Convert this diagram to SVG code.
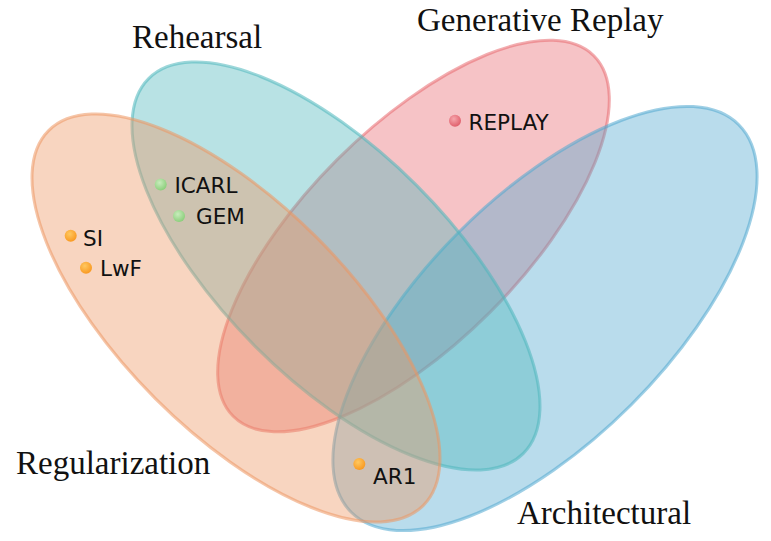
<svg xmlns="http://www.w3.org/2000/svg" width="771" height="541" viewBox="0 0 771 541">
  <defs>
    <radialGradient id="gGreen" cx="40%" cy="35%" r="65%">
      <stop offset="0" stop-color="#c8ecbc"/>
      <stop offset="1" stop-color="#8ccf7c"/>
    </radialGradient>
    <radialGradient id="gOrange" cx="40%" cy="35%" r="65%">
      <stop offset="0" stop-color="#ffc860"/>
      <stop offset="1" stop-color="#f99a22"/>
    </radialGradient>
    <radialGradient id="gRed" cx="40%" cy="35%" r="65%">
      <stop offset="0" stop-color="#f6a6ac"/>
      <stop offset="1" stop-color="#e0606c"/>
    </radialGradient>
    <style>
      .set { fill-opacity: 0.4; stroke-opacity: 0.55; stroke-width: 3; }
      .title { font-family: "Liberation Serif", "Times New Roman", serif; font-size: 33px; fill: #111; }
      .lbl { font-family: "DejaVu Sans", Verdana, sans-serif; font-size: 21.5px; fill: #111; }
    </style>
  </defs>
  <rect width="771" height="541" fill="#ffffff"/>

  <g id="set-generative-replay">
    <ellipse class="set" cx="413.5" cy="236" rx="255" ry="108" transform="rotate(-45 413.5 236)" fill="#e86970" stroke="#e86970"/>
  </g>
  <g id="set-architectural">
    <ellipse class="set" cx="545" cy="318.5" rx="274" ry="122" transform="rotate(-45 545 318.5)" fill="#50a7cf" stroke="#50a7cf"/>
  </g>
  <g id="set-rehearsal">
    <ellipse class="set" cx="336" cy="266" rx="265" ry="114" transform="rotate(45 336 266)" fill="#4db6bb" stroke="#4db6bb"/>
  </g>
  <g id="set-regularization">
    <ellipse class="set" cx="236" cy="318" rx="265" ry="114" transform="rotate(45 236 318)" fill="#ed9661" stroke="#ed9661"/>
  </g>

  <g id="titles">
    <text class="title" x="132" y="48">Rehearsal</text>
    <text class="title" x="417" y="31">Generative Replay</text>
    <text class="title" x="16" y="474">Regularization</text>
    <text class="title" x="517" y="524">Architectural</text>
  </g>

  <g id="node-icarl">
    <circle cx="160.7" cy="184.5" r="6" fill="url(#gGreen)"/>
    <text class="lbl" x="174.5" y="193">ICARL</text>
  </g>
  <g id="node-gem">
    <circle cx="179" cy="216" r="6" fill="url(#gGreen)"/>
    <text class="lbl" x="196" y="224">GEM</text>
  </g>
  <g id="node-si">
    <circle cx="70.7" cy="235.7" r="6" fill="url(#gOrange)"/>
    <text class="lbl" x="83" y="245.5">SI</text>
  </g>
  <g id="node-lwf">
    <circle cx="86" cy="267.7" r="6" fill="url(#gOrange)"/>
    <text class="lbl" x="100" y="276">LwF</text>
  </g>
  <g id="node-replay">
    <circle cx="455" cy="120.7" r="6" fill="url(#gRed)"/>
    <text class="lbl" x="468.5" y="130">REPLAY</text>
  </g>
  <g id="node-ar1">
    <circle cx="359.3" cy="464" r="6" fill="url(#gOrange)"/>
    <text class="lbl" x="373" y="484">AR1</text>
  </g>
</svg>
